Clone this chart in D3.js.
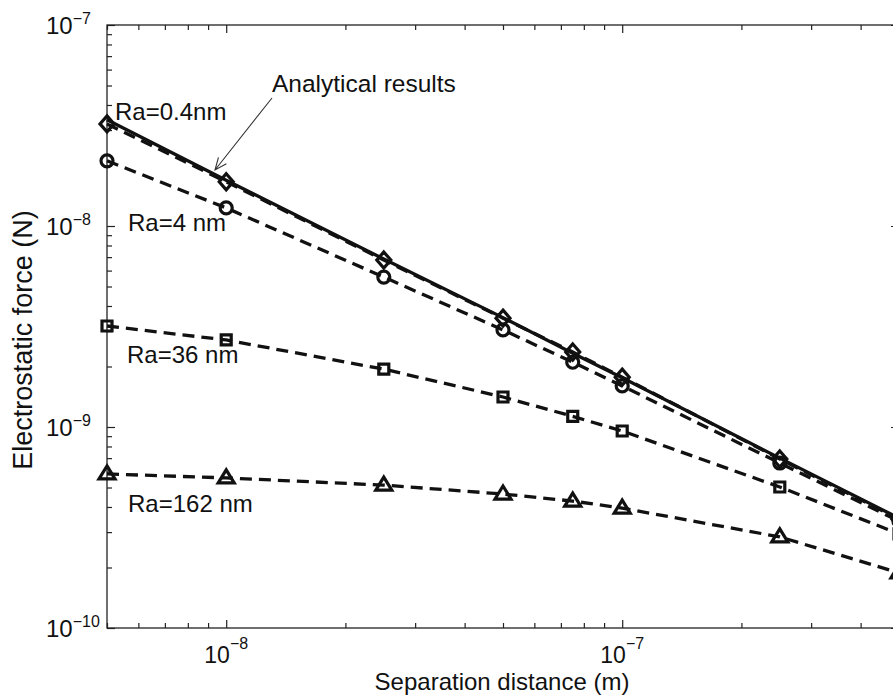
<!DOCTYPE html>
<html>
<head>
<meta charset="utf-8">
<script src="https://cdn.jsdelivr.net/npm/d3@7"></script>
<style>
  body { margin: 0; overflow: hidden; background: #fff; }
  text { font-family: "Liberation Sans", Arial, sans-serif; fill: #111; }
</style>
</head>
<body>
<svg></svg>
<script>
// separation distance (m) and electrostatic force (N)
const separation = [5e-9, 1e-8, 2.5e-8, 5e-8, 7.5e-8, 1e-7, 2.5e-7, 5e-7];
const analytical = [3.38e-8, 1.69e-8, 6.85e-9, 3.5e-9, 2.33e-9, 1.76e-9, 7.0e-10, 3.52e-10];
const ra04 = [3.22e-8, 1.66e-8, 6.77e-9, 3.48e-9, 2.36e-9, 1.77e-9, 6.93e-10, 3.48e-10];
const ra4 = [2.11e-8, 1.23e-8, 5.57e-9, 3.04e-9, 2.1e-9, 1.6e-9, 6.62e-10, 3.4e-10];
const ra36 = [3.18e-9, 2.71e-9, 1.94e-9, 1.41e-9, 1.13e-9, 9.55e-10, 5.03e-10, 2.94e-10];
const ra162 = [5.84e-10, 5.58e-10, 5.14e-10, 4.64e-10, 4.28e-10, 3.95e-10, 2.84e-10, 1.88e-10];
const seriesNames = ["Ra=0.4nm", "Ra=4 nm", "Ra=36 nm", "Ra=162 nm"];

const xMajor = [1e-8, 1e-7];
const xMajorLabels = ["\u22128", "\u22127"];
const yMajor = [1e-10, 1e-9, 1e-8, 1e-7];
const yMajorLabels = ["\u221210", "\u22129", "\u22128", "\u22127"];

let w = 893;
let h = 699;

var svg = d3.select("svg").attr("width", w).attr("height", h);

// log scales, right edge of the box falls just outside the window
var x = d3.scaleLog().domain([5e-9, 5e-7]).range([107, 899]);
var y = d3.scaleLog().domain([1e-10, 1e-7]).range([628, 25]);

// minor ticks come from the log scale itself
var xMinor = x.ticks().filter((t) => !xMajor.includes(t));
var yMinor = y.ticks().filter((t) => !yMajor.some((m) => Math.abs(m - t) / m < 1e-6));

function ticks(axis, tr, vals, size) {
  var g = svg
    .append("g")
    .attr("transform", tr)
    .call(axis.tickValues(vals).tickSize(-size).tickFormat(""));
  g.select(".domain").remove();
  g.selectAll("line").attr("stroke", "#222").attr("stroke-width", 1.2);
}

[
  [d3.axisBottom(x), "translate(0,628)", xMinor, 5],
  [d3.axisBottom(x), "translate(0,628)", xMajor, 8],
  [d3.axisTop(x), "translate(0,25)", xMinor, 5],
  [d3.axisTop(x), "translate(0,25)", xMajor, 8],
  [d3.axisLeft(y), "translate(107,0)", yMinor, 5],
  [d3.axisLeft(y), "translate(107,0)", yMajor, 8],
  [d3.axisRight(y), "translate(899,0)", yMinor, 5],
  [d3.axisRight(y), "translate(899,0)", yMajor, 8],
].forEach((a) => ticks(a[0], a[1], a[2], a[3]));

// box
svg
  .append("rect")
  .attr("x", 107)
  .attr("y", 25)
  .attr("width", 899 - 107)
  .attr("height", 628 - 25)
  .attr("fill", "none")
  .attr("stroke", "#222")
  .attr("stroke-width", 1.3);

// tick labels 10^n
svg
  .append("g")
  .selectAll("text")
  .data(xMajor)
  .enter()
  .append("text")
  .attr("x", (d) => x(d))
  .attr("y", 663)
  .attr("text-anchor", "middle")
  .style("font-size", "23px")
  .each(function (d, i) {
    var t = d3.select(this);
    t.append("tspan").text("10");
    t.append("tspan").attr("dy", -14).style("font-size", "16px").text(xMajorLabels[i]);
  });

svg
  .append("g")
  .selectAll("text")
  .data(yMajor)
  .enter()
  .append("text")
  .attr("x", 46)
  .attr("y", (d) => y(d) + 9)
  .style("font-size", "24px")
  .each(function (d, i) {
    var t = d3.select(this);
    t.append("tspan").text("10");
    t.append("tspan").attr("dy", -10).style("font-size", "16px").text(yMajorLabels[i]);
  });

// axis titles
svg
  .append("text")
  .attr("x", 502)
  .attr("y", 690)
  .attr("text-anchor", "middle")
  .style("font-size", "24px")
  .text("Separation distance (m)");

svg
  .append("text")
  .attr("transform", "translate(32,340) rotate(-90)")
  .attr("text-anchor", "middle")
  .style("font-size", "27px")
  .text("Electrostatic force (N)");

// lines
var line = d3
  .line()
  .x((d, i) => x(separation[i]))
  .y((d) => y(d));

var series = [ra04, ra4, ra36, ra162];
var markers = [
  "M0,-8L7,0L0,8L-7,0Z",
  "M6,0A6,6 0 1,1 -6,0A6,6 0 1,1 6,0Z",
  "M-5,-5H5V5H-5Z",
  "M0,-8L8,5L-8,5Z",
];

series.forEach((s) => {
  svg
    .append("path")
    .attr("d", line(s))
    .attr("fill", "none")
    .attr("stroke", "#111")
    .attr("stroke-width", 3.3)
    .attr("stroke-dasharray", "12,7");
});

svg
  .append("path")
  .attr("d", line(analytical))
  .attr("fill", "none")
  .attr("stroke", "#111")
  .attr("stroke-width", 3.3);

series.forEach((s, k) => {
  svg
    .append("g")
    .selectAll("path")
    .data(s)
    .enter()
    .append("path")
    .attr("transform", (d, i) => "translate(" + x(separation[i]) + "," + y(d) + ")")
    .attr("d", markers[k])
    .attr("fill", "none")
    .attr("stroke", "#111")
    .attr("stroke-width", 3.2);
});

// series labels
var labelPos = [
  [115, 120],
  [128, 231],
  [127, 363],
  [128, 512],
];
svg
  .append("g")
  .selectAll("text")
  .data(seriesNames)
  .enter()
  .append("text")
  .attr("x", (d, i) => labelPos[i][0])
  .attr("y", (d, i) => labelPos[i][1])
  .style("font-size", "24px")
  .text((d) => d);

// annotation with arrow
svg
  .append("text")
  .attr("x", 272)
  .attr("y", 92)
  .style("font-size", "24.5px")
  .text("Analytical results");

var a0 = [272, 98];
var a1 = [215, 170];
var ang = Math.atan2(a1[1] - a0[1], a1[0] - a0[0]);
var head = [ang + Math.PI - 0.4, ang + Math.PI + 0.4].map((t) => [
  a1[0] + 13 * Math.cos(t),
  a1[1] + 13 * Math.sin(t),
]);
svg
  .append("path")
  .attr("d", "M" + a0 + "L" + a1 + "M" + head[0] + "L" + a1 + "L" + head[1])
  .attr("fill", "none")
  .attr("stroke", "#333")
  .attr("stroke-width", 1.1);
</script>
</body>
</html>
